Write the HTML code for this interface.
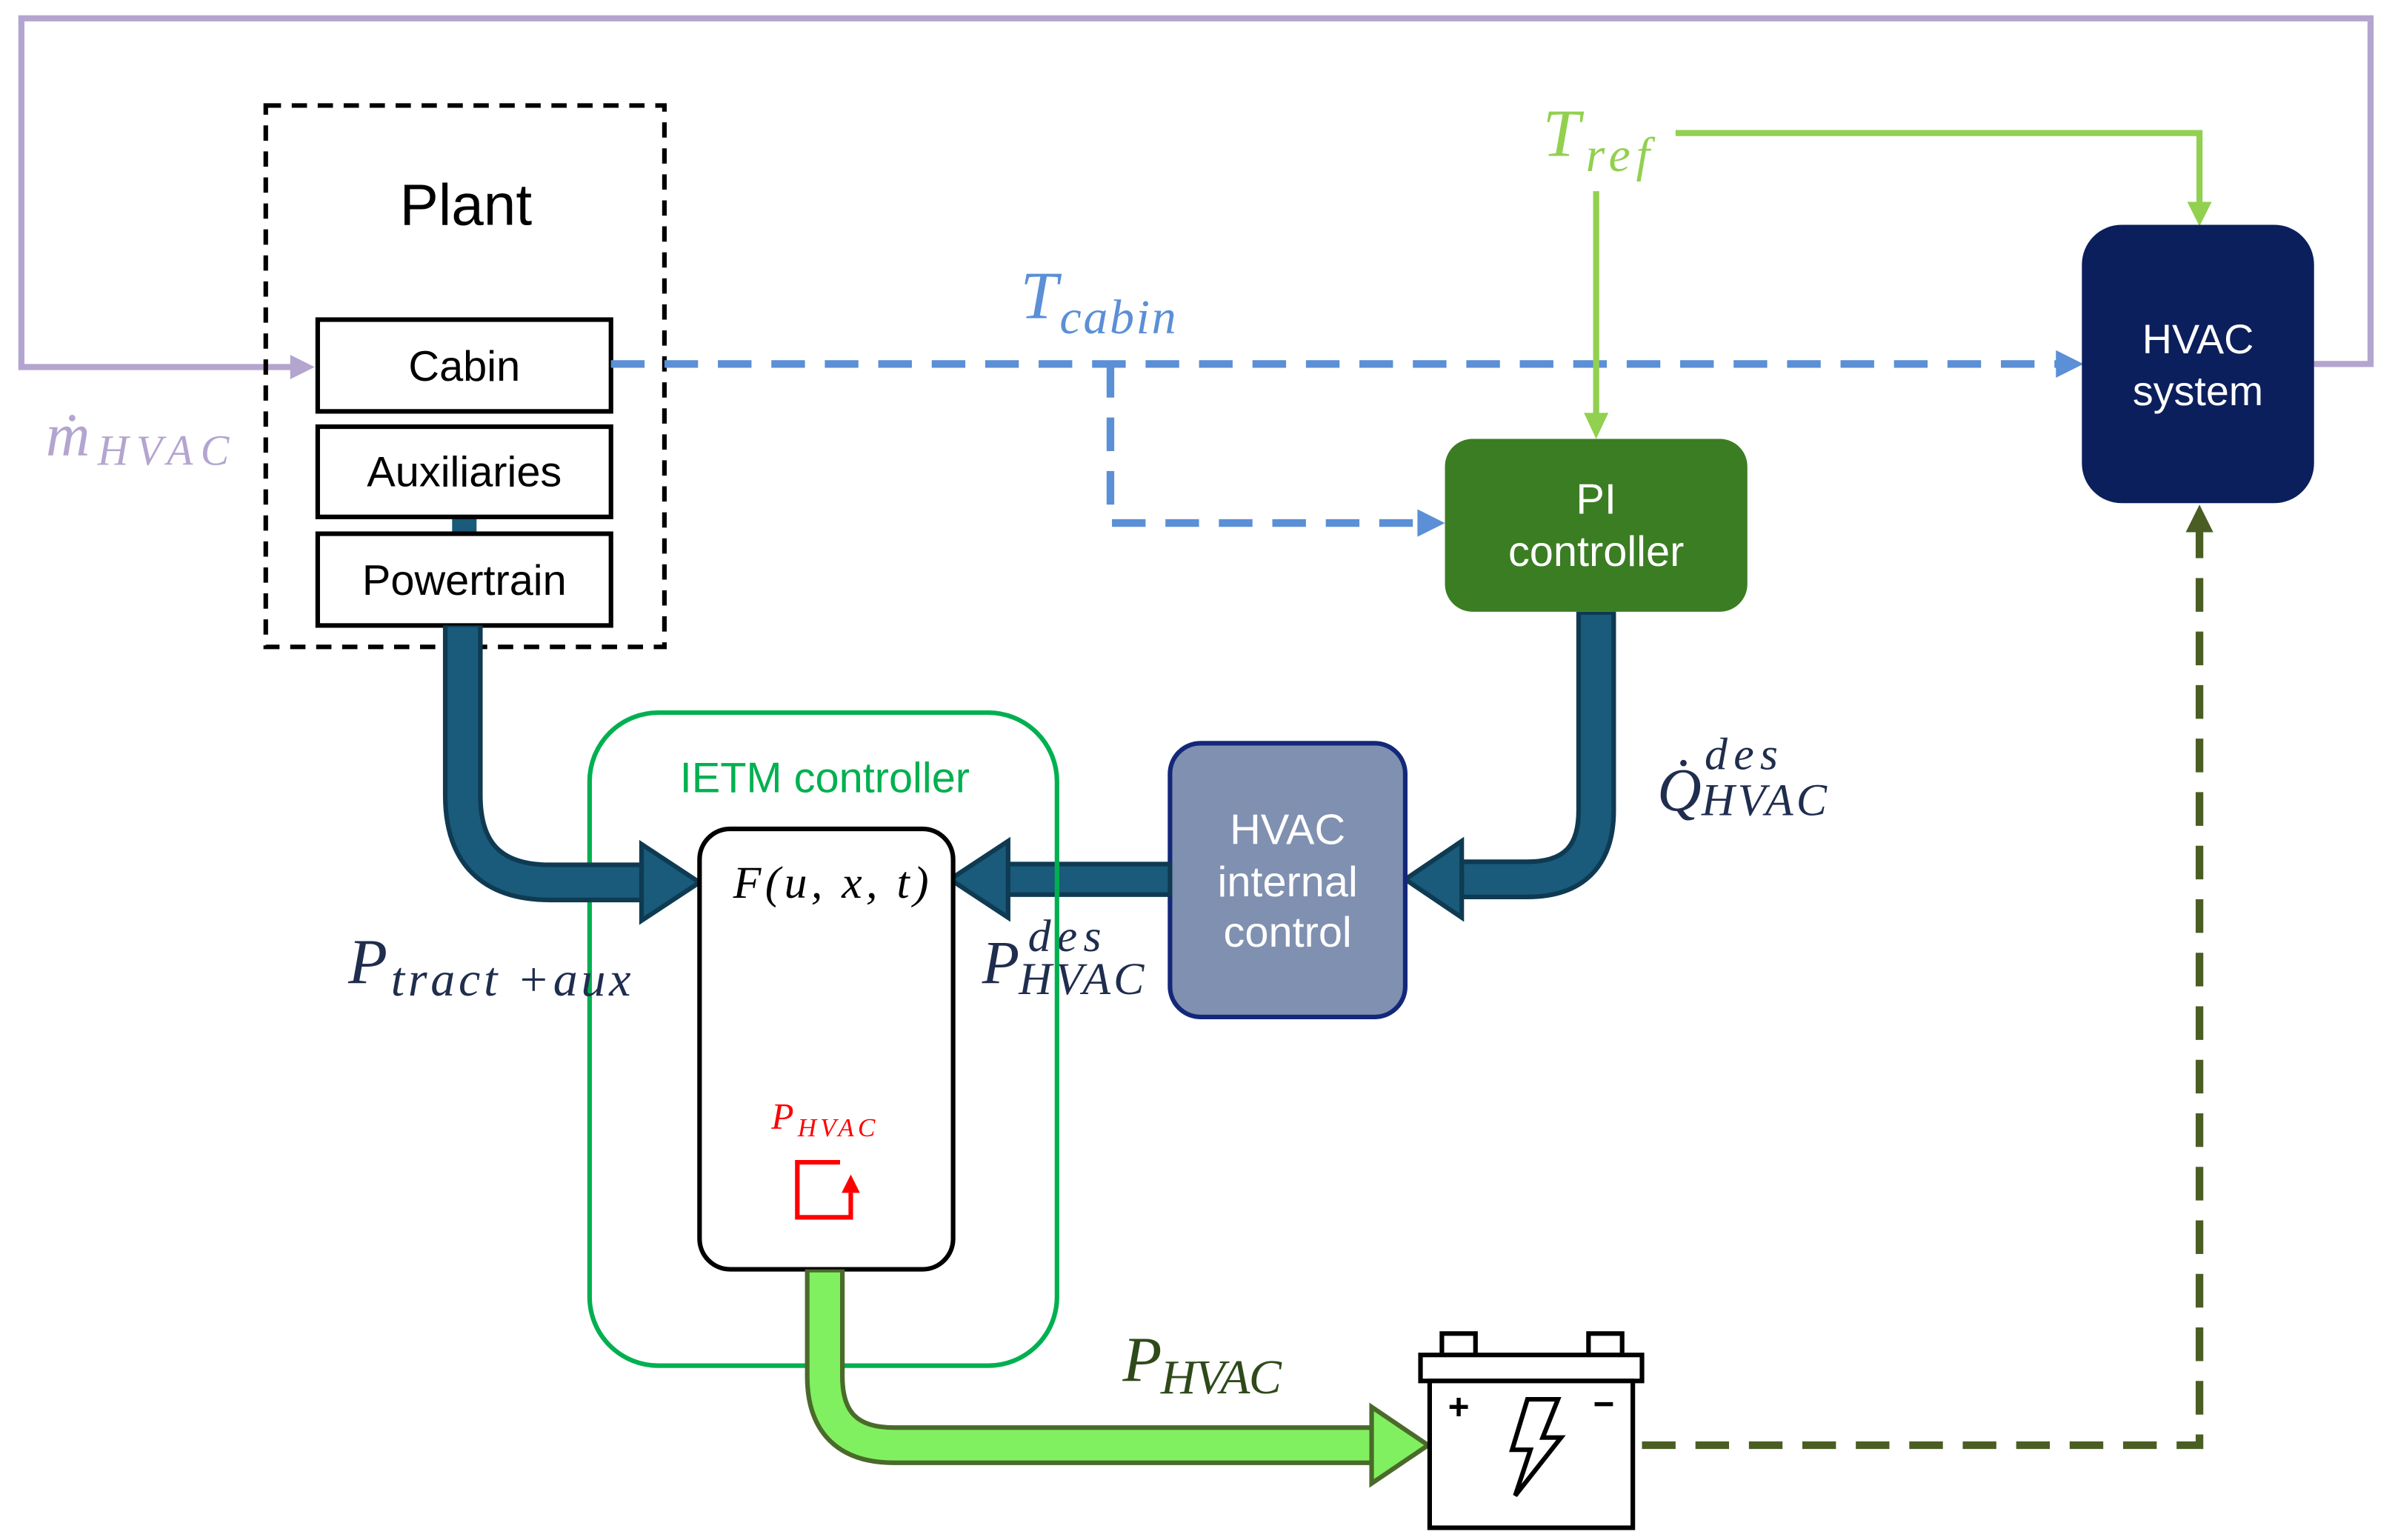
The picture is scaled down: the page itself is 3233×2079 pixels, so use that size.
<!DOCTYPE html>
<html><head><meta charset="utf-8"><style>html,body{margin:0;padding:0;background:#fff}svg{display:block}</style></head><body>
<svg width="3233" height="2079" viewBox="0 0 1568 1007" preserveAspectRatio="none" xmlns="http://www.w3.org/2000/svg">
<!-- purple loop -->
<polyline points="1515,238 1552,238 1552,12 14,12 14,240 192,240" fill="none" stroke="#b3a5cf" stroke-width="4"/>
<polygon points="190,232 206,240 190,248" fill="#b3a5cf"/>
<text x="30" y="298" font-family="Liberation Serif, serif" font-style="italic" font-size="40" fill="#b3a5cf" textLength="120">ṁ<tspan font-size="28" dy="6">HVAC</tspan></text>
<!-- plant -->
<rect x="174" y="69" width="261" height="354" fill="none" stroke="#000" stroke-width="3" stroke-dasharray="10 7"/>
<text x="305" y="147" text-anchor="middle" font-family="Liberation Sans, sans-serif" font-size="38">Plant</text>
<rect x="296" y="336" width="16" height="15" fill="#1a5a7a"/>
<g font-family="Liberation Sans, sans-serif" font-size="28" text-anchor="middle">
<rect x="208" y="209" width="192" height="60" fill="#fff" stroke="#000" stroke-width="3"/><text x="304" y="249">Cabin</text>
<rect x="208" y="279" width="192" height="59" fill="#fff" stroke="#000" stroke-width="3"/><text x="304" y="318">Auxiliaries</text>
<rect x="208" y="349" width="192" height="60" fill="#fff" stroke="#000" stroke-width="3"/><text x="304" y="389">Powertrain</text>
</g>
<!-- blue dashed -->
<polyline points="400,238 1348,238" fill="none" stroke="#5b8fd6" stroke-width="5" stroke-dasharray="22 13"/>
<polygon points="1346,229 1364,238 1346,247" fill="#5b8fd6"/>
<polyline points="727,238 727,342 930,342" fill="none" stroke="#5b8fd6" stroke-width="5" stroke-dasharray="22 13"/>
<polygon points="928,333 946,342 928,351" fill="#5b8fd6"/>
<text x="668" y="208" font-family="Liberation Serif, serif" font-style="italic" font-size="44" fill="#5b8fd6" textLength="102">T<tspan font-size="32" dy="10">cabin</tspan></text>
<!-- Tref -->
<text x="1010" y="102" font-family="Liberation Serif, serif" font-style="italic" font-size="44" fill="#92d050" textLength="70">T<tspan font-size="32" dy="10">ref</tspan></text>
<polyline points="1097,87 1440,87 1440,134" fill="none" stroke="#92d050" stroke-width="4"/>
<polygon points="1432,132 1440,148 1448,132" fill="#92d050"/>
<line x1="1045" y1="125" x2="1045" y2="272" stroke="#92d050" stroke-width="4"/>
<polygon points="1037,270 1045,287 1053,270" fill="#92d050"/>
<!-- HVAC system -->
<rect x="1363" y="147" width="152" height="182" rx="26" fill="#0b1f5c"/>
<text x="1439" y="231" text-anchor="middle" font-family="Liberation Sans, sans-serif" font-size="27" fill="#fff">HVAC</text>
<text x="1439" y="265" text-anchor="middle" font-family="Liberation Sans, sans-serif" font-size="27" fill="#fff">system</text>
<!-- PI -->
<rect x="946" y="287" width="198" height="113" rx="18" fill="#3b7d23"/>
<text x="1045" y="336" text-anchor="middle" font-family="Liberation Sans, sans-serif" font-size="28" fill="#fff">PI</text>
<text x="1045" y="370" text-anchor="middle" font-family="Liberation Sans, sans-serif" font-size="28" fill="#fff">controller</text>
<!-- PI to internal thick arrow -->
<path d="M1045,400 L1045,530 Q1045,575 1000,575 L955,575" fill="none" stroke="#0e3a52" stroke-width="26"/>
<path d="M1045,402 L1045,530 Q1045,575 1000,575 L952,575" fill="none" stroke="#1a5a7a" stroke-width="20"/>
<polygon points="957,550 957,600 920,575" fill="#1a5a7a" stroke="#0e3a52" stroke-width="3"/>
<text x="1085" y="530" font-family="Liberation Serif, serif" font-style="italic" font-size="40" fill="#1f2d4e">Q̇</text>
<text x="1116" y="503" font-family="Liberation Serif, serif" font-style="italic" font-size="30" fill="#1f2d4e" textLength="48">des</text>
<text x="1114" y="533" font-family="Liberation Serif, serif" font-style="italic" font-size="30" fill="#1f2d4e" textLength="82">HVAC</text>
<!-- internal control -->
<rect x="766" y="486" width="154" height="179" rx="20" fill="#8090b0" stroke="#14287a" stroke-width="3"/>
<g font-family="Liberation Sans, sans-serif" font-size="28" fill="#fff" text-anchor="middle">
<text x="843" y="552">HVAC</text><text x="843" y="586">internal</text><text x="843" y="619">control</text></g>
<!-- internal to F -->
<rect x="656" y="565" width="110" height="20" fill="#1a5a7a" stroke="#0e3a52" stroke-width="3"/>
<polygon points="660,550 660,600 622,575" fill="#1a5a7a" stroke="#0e3a52" stroke-width="3"/>
<text x="643" y="643" font-family="Liberation Serif, serif" font-style="italic" font-size="40" fill="#1f2d4e">P</text>
<text x="673" y="622" font-family="Liberation Serif, serif" font-style="italic" font-size="30" fill="#1f2d4e" textLength="48">des</text>
<text x="667" y="650" font-family="Liberation Serif, serif" font-style="italic" font-size="30" fill="#1f2d4e" textLength="82">HVAC</text>
<!-- IETM -->
<rect x="386" y="466" width="306" height="427" rx="45" fill="none" stroke="#00b050" stroke-width="3"/>
<text x="540" y="518" text-anchor="middle" font-family="Liberation Sans, sans-serif" font-size="28" fill="#00b050">IETM controller</text>
<!-- powertrain thick arrow -->
<path d="M303,409 L303,520 Q303,577 360,577 L422,577" fill="none" stroke="#0e3a52" stroke-width="26"/>
<path d="M303,410 L303,520 Q303,577 360,577 L424,577" fill="none" stroke="#1a5a7a" stroke-width="20"/>
<polygon points="420,552 420,602 458,577" fill="#1a5a7a" stroke="#0e3a52" stroke-width="3"/>
<text x="228" y="643" font-family="Liberation Serif, serif" font-style="italic" font-size="42" fill="#1f2d4e" textLength="185">P<tspan font-size="32" dy="8">tract +aux</tspan></text>
<!-- F box -->
<rect x="458" y="542" width="166" height="288" rx="20" fill="#fff" stroke="#000" stroke-width="3"/>
<text x="480" y="587" font-family="Liberation Serif, serif" font-style="italic" font-size="30" textLength="128">F(u, x, t)</text>
<text x="505" y="738" font-family="Liberation Serif, serif" font-style="italic" font-size="24" fill="#f00" textLength="68">P<tspan font-size="17" dy="5">HVAC</tspan></text>
<polyline points="557,780 557,796 522,796 522,760 550,760" fill="none" stroke="#f00" stroke-width="3"/>
<polygon points="551,780 557,768 563,780" fill="#f00"/>
<!-- green thick arrow -->
<path d="M540,830 L540,900 Q540,945 585,945 L900,945" fill="none" stroke="#4a6a2a" stroke-width="26"/>
<path d="M540,832 L540,900 Q540,945 585,945 L902,945" fill="none" stroke="#80f060" stroke-width="20"/>
<polygon points="898,920 898,970 935,945" fill="#80f060" stroke="#4a6a2a" stroke-width="3"/>
<text x="735" y="903" font-family="Liberation Serif, serif" font-style="italic" font-size="42" fill="#2f4a1a" textLength="104">P<tspan font-size="32" dy="8">HVAC</tspan></text>
<!-- battery -->
<rect x="944" y="872" width="22" height="14" fill="#fff" stroke="#000" stroke-width="3"/>
<rect x="1040" y="872" width="22" height="14" fill="#fff" stroke="#000" stroke-width="3"/>
<rect x="930" y="886" width="145" height="17" fill="#fff" stroke="#000" stroke-width="3"/>
<rect x="936" y="903" width="133" height="96" fill="#fff" stroke="#000" stroke-width="3"/>
<text x="955" y="928" text-anchor="middle" font-family="Liberation Sans, sans-serif" font-size="24" font-weight="bold">+</text>
<text x="1050" y="926" text-anchor="middle" font-family="Liberation Sans, sans-serif" font-size="24" font-weight="bold">−</text>
<polygon points="1000,915 1020,915 1010,940 1022,940 992,978 1002,948 990,948" fill="#fff" stroke="#000" stroke-width="3"/>
<!-- olive dashed -->
<polyline points="1075,945 1440,945 1440,346" fill="none" stroke="#4a5e23" stroke-width="5" stroke-dasharray="22 13"/>
<polygon points="1431,348 1440,330 1449,348" fill="#4a5e23"/>
</svg>
</body></html>
